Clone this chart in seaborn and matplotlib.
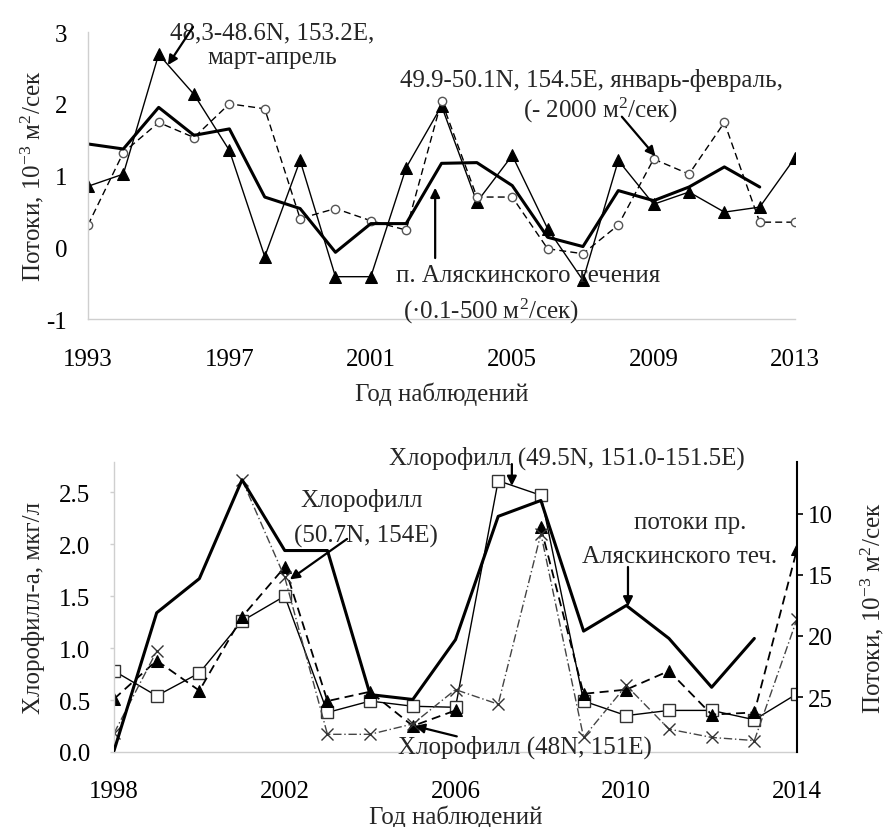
import numpy as np
import pandas as pd
import matplotlib
matplotlib.use("Agg")
import matplotlib.pyplot as plt
import seaborn as sns

sns.set_theme(style="white")
plt.rcParams["font.family"] = ["Liberation Serif", "DejaVu Serif"]
plt.rcParams["mathtext.default"] = "regular"
plt.rcParams["axes.unicode_minus"] = False

# top panel: flows 1993-2013
years_top = [1993, 1994, 1995, 1996, 1997, 1998, 1999, 2000, 2001, 2002, 2003,
             2004, 2005, 2006, 2007, 2008, 2009, 2010, 2011, 2012, 2013]
flow_mar_apr = [0.85, 1.02, 2.69, 2.13, 1.35, -0.13, 1.21, -0.41, -0.41, 1.11, 1.97,
                0.63, 1.28, 0.26, -0.46, 1.21, 0.60, 0.77, 0.49, 0.56, 1.25]
flow_jan_feb = [0.31, 1.32, 1.74, 1.53, 2.00, 1.93, 0.40, 0.54, 0.37, 0.24, 2.04,
                0.70, 0.70, -0.02, -0.09, 0.31, 1.23, 1.02, 1.74, 0.35, 0.35]
years_alaska_top = years_top[:-1]
flow_alaska_top = [1.44, 1.37, 1.95, 1.56, 1.65, 0.70, 0.54, -0.07, 0.33, 0.33,
                   1.17, 1.18, 0.86, 0.14, 0.01, 0.79, 0.65, 0.84, 1.12, 0.84]

# bottom panel: chlorophyll 1998-2014, flows on the inverted right axis
years_bot = [1998, 1999, 2000, 2001, 2002, 2003, 2004, 2005, 2006,
             2007, 2008, 2009, 2010, 2011, 2012, 2013, 2014]
chl_49n = [0.78, 0.54, 0.76, 1.26, 1.50, 0.38, 0.49, 0.44, 0.43,
           2.61, 2.47, 0.49, 0.35, 0.40, 0.40, 0.31, 0.56]
chl_50n = [0.51, 0.88, 0.59, 1.30, 1.78, 0.49, 0.58, 0.25, 0.40,
           np.nan, 2.16, 0.56, 0.60, 0.78, 0.36, 0.38, 1.95]
chl_48n = [0.18, 0.97, np.nan, 2.62, 1.68, 0.17, 0.17, 0.27, 0.60,
           0.46, 2.10, 0.14, 0.64, 0.22, 0.14, 0.11, 1.28]
years_alaska_bot = years_bot[:-1]
flow_alaska_bot = [29.4, 18.1, 15.3, 7.2, 13.0, 13.0, 24.8, 25.2,
                   20.3, 10.2, 8.9, 19.6, 17.5, 20.2, 24.2, 20.2]

GRAY = "#cfcfcf"
FS = 18


def segments(x, y):
    d = pd.DataFrame({"x": x, "y": y})
    d["seg"] = d["y"].isna().cumsum()
    return d.dropna()


def style_axis(ax, xpad, ypad):
    for side in ["top", "right"]:
        ax.spines[side].set_visible(False)
    for side in ["left", "bottom"]:
        ax.spines[side].set_color(GRAY)
        ax.spines[side].set_linewidth(1.0)
    ax.tick_params(axis="both", colors=GRAY, labelcolor="black", length=3,
                   width=1, labelsize=FS, direction="out")
    ax.tick_params(axis="x", pad=xpad)
    ax.tick_params(axis="y", pad=ypad)
    ax.set_facecolor("none")


def arrow(ax, start, tip):
    ax.annotate("", xy=tip, xytext=start, annotation_clip=False,
                arrowprops=dict(arrowstyle="-|>", color="black", lw=1.6,
                                mutation_scale=14, shrinkA=0, shrinkB=0))


fig = plt.figure(figsize=(8.85, 8.28), dpi=100)
ax1 = fig.add_axes([0.0994, 0.6135, 0.799, 0.3466])
ax2 = fig.add_axes([0.1288, 0.0906, 0.7718, 0.3502])

# ---- top panel
sns.lineplot(x=years_top, y=flow_mar_apr, ax=ax1, color="black", lw=1.0,
             marker="^", markersize=9, markeredgecolor="black")
sns.lineplot(x=years_top, y=flow_jan_feb, ax=ax1, color="black", lw=1.0,
             linestyle=(0, (5, 3)), marker="o", markersize=6,
             markerfacecolor="white", markeredgecolor="#555555", markeredgewidth=1.0)
sns.lineplot(x=years_alaska_top, y=flow_alaska_top, ax=ax1, color="black", lw=2.2)

ax1.set_xlim(1993, 2013)
ax1.set_ylim(-1, 3)
ax1.set_xticks([1993, 1997, 2001, 2005, 2009, 2013])
ax1.set_yticks([-1, 0, 1, 2, 3])
style_axis(ax1, 18, 12)
ax1.set_xlabel("Год наблюдений", fontsize=FS, labelpad=8)
ax1.set_ylabel("Потоки, 10$^{-3}$ м$^2$/сек", fontsize=FS, labelpad=0)

ax1.text(1998.2, 2.82, "48,3-48.6N, 153.2E,\nмарт-апрель", fontsize=FS,
         ha="center", va="center", linespacing=1.15)
arrow(ax1, (1995.97, 3.07), (1995.26, 2.54))
ax1.text(2007.25, 2.34, "49.9-50.1N, 154.5E, январь-февраль,", fontsize=FS,
         ha="center", va="center")
ax1.text(2007.5, 1.92, "(- 2000 м$^2$/сек)", fontsize=FS, ha="center", va="center")
arrow(ax1, (2008.1, 1.82), (2009.05, 1.27))
ax1.text(2001.7, -0.39, "п. Аляскинского течения", fontsize=FS, ha="left", va="center")
ax1.text(2001.9, -0.88, "(·0.1-500 м$^2$/сек)", fontsize=FS, ha="left", va="center")
arrow(ax1, (2002.82, -0.15), (2002.82, 0.83))

# ---- bottom panel
sns.lineplot(x=years_bot, y=chl_49n, ax=ax2, color="black", lw=1.0,
             marker="s", markersize=8, markerfacecolor="white",
             markeredgecolor="#333333", markeredgewidth=1.0)
d50 = segments(years_bot, chl_50n)
sns.lineplot(data=d50, x="x", y="y", units="seg", estimator=None, ax=ax2,
             color="black", lw=1.3, linestyle=(0, (5, 3)), marker="^",
             markersize=9, markeredgecolor="black")
d48 = segments(years_bot, chl_48n)
sns.lineplot(data=d48, x="x", y="y", units="seg", estimator=None, ax=ax2,
             color="#444444", lw=1.0, linestyle=(0, (6, 2, 1, 2)), marker="x",
             markersize=9, markeredgecolor="#333333", markeredgewidth=1.0)

ax2.set_xlim(1998, 2014)
ax2.set_ylim(0, 2.79)
ax2.set_xticks([1998, 2002, 2006, 2010, 2014])
ax2.set_yticks([0.0, 0.5, 1.0, 1.5, 2.0, 2.5])
ax2.yaxis.set_major_formatter(matplotlib.ticker.FormatStrFormatter("%.1f"))
style_axis(ax2, 17, 14)
ax2.set_xlabel("Год наблюдений", fontsize=FS, labelpad=2)
ax2.set_ylabel("Хлорофилл-а, мкг/л", fontsize=FS, labelpad=10)

ax3 = ax2.twinx()
sns.lineplot(x=years_alaska_bot, y=flow_alaska_bot, ax=ax3, color="black", lw=2.2)
ax3.set_ylim(29.5, 5.75)
ax3.set_yticks([10, 15, 20, 25])
for side in ["top", "left", "bottom"]:
    ax3.spines[side].set_visible(False)
ax3.spines["right"].set_color("black")
ax3.spines["right"].set_linewidth(1.5)
ax3.tick_params(axis="y", colors="black", length=4, width=1.2, labelsize=FS, pad=4)
ax3.set_ylabel("Потоки, 10$^{-3}$ м$^2$/сек", fontsize=FS, labelpad=18)
ax3.yaxis.set_label_position("right")

ax2.text(2004.45, 2.84, "Хлорофилл (49.5N, 151.0-151.5E)", fontsize=FS,
         ha="left", va="center")
arrow(ax2, (2007.32, 2.77), (2007.32, 2.56))
ax2.text(2003.8, 2.43, "Хлорофилл", fontsize=FS, ha="center", va="center")
ax2.text(2003.9, 2.08, "(50.7N, 154E)", fontsize=FS, ha="center", va="center")
arrow(ax2, (2003.46, 2.05), (2002.12, 1.66))
ax2.text(2011.5, 2.21, "потоки пр.", fontsize=FS, ha="center", va="center")
ax2.text(2011.26, 1.89, "Аляскинского теч.", fontsize=FS, ha="center", va="center")
arrow(ax2, (2010.04, 1.78), (2010.04, 1.40))
ax2.text(2004.65, 0.05, "Хлорофилл (48N, 151E)", fontsize=FS, ha="left", va="center")
arrow(ax2, (2006.03, 0.15), (2005.05, 0.25))

fig.savefig("out.png", dpi=100)
